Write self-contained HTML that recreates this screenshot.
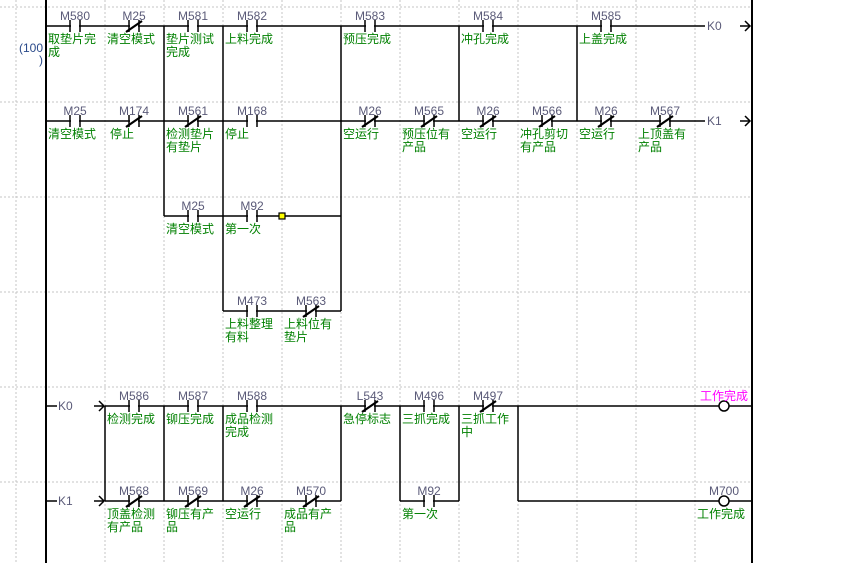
<!DOCTYPE html>
<html><head><meta charset="utf-8"><style>
html,body{margin:0;padding:0;background:#fff;}
svg{display:block;}
.l{font-family:"Liberation Sans",sans-serif;font-size:12px;fill:#5a5a78;text-anchor:middle;}
.c{font-family:"Liberation Sans","Noto Sans CJK SC",sans-serif;font-size:12px;fill:#008000;}
.k{font-family:"Liberation Sans",sans-serif;font-size:12px;fill:#5a5a78;}
.w{stroke:#000;stroke-width:1.5;fill:none;}
.g{stroke:#c4c4c4;stroke-width:1;stroke-dasharray:2,2;}
</style></head><body>
<svg width="860" height="563" viewBox="0 0 860 563" xmlns="http://www.w3.org/2000/svg">
<!-- grid -->
<g class="g">
<line x1="16" y1="0" x2="16" y2="563"/>
<line x1="105" y1="0" x2="105" y2="563"/><line x1="164" y1="0" x2="164" y2="563"/>
<line x1="223" y1="0" x2="223" y2="563"/><line x1="282" y1="0" x2="282" y2="563"/>
<line x1="341" y1="0" x2="341" y2="563"/><line x1="400" y1="0" x2="400" y2="563"/>
<line x1="459" y1="0" x2="459" y2="563"/><line x1="518" y1="0" x2="518" y2="563"/>
<line x1="577" y1="0" x2="577" y2="563"/><line x1="636" y1="0" x2="636" y2="563"/>
<line x1="695" y1="0" x2="695" y2="563"/>
<line x1="0" y1="7" x2="752" y2="7"/><line x1="0" y1="102" x2="752" y2="102"/>
<line x1="0" y1="197" x2="752" y2="197"/><line x1="0" y1="292" x2="752" y2="292"/>
<line x1="0" y1="387" x2="752" y2="387"/><line x1="0" y1="482" x2="752" y2="482"/>
</g>
<!-- rails -->
<line x1="46" y1="0" x2="46" y2="563" stroke="#000" stroke-width="2"/>
<line x1="752" y1="0" x2="752" y2="563" stroke="#000" stroke-width="2"/>
<text x="43" y="52" font-family="Liberation Sans,sans-serif" font-size="12" fill="#2a4a8a" text-anchor="end">(100</text>
<text x="43" y="64" font-family="Liberation Sans,sans-serif" font-size="12" fill="#2a4a8a" text-anchor="end">)</text>

<!-- wires -->
<g class="w">
<line x1="46" y1="26" x2="705" y2="26"/>
<line x1="46" y1="121" x2="705" y2="121"/>
<polyline points="745,21 750,26 745,31"/><line x1="740" y1="26" x2="750" y2="26"/>
<polyline points="745,116 750,121 745,126"/><line x1="740" y1="121" x2="750" y2="121"/>
<line x1="164" y1="26" x2="164" y2="216"/>
<line x1="223" y1="26" x2="223" y2="311"/>
<line x1="341" y1="26" x2="341" y2="311"/>
<line x1="459" y1="26" x2="459" y2="121"/>
<line x1="577" y1="26" x2="577" y2="121"/>
<line x1="164" y1="216" x2="341" y2="216"/>
<line x1="223" y1="311" x2="341" y2="311"/>
<line x1="46" y1="406" x2="57" y2="406"/>
<line x1="46" y1="501" x2="57" y2="501"/>
<polyline points="99,401 104,406 99,411"/><line x1="94" y1="406" x2="104" y2="406"/>
<polyline points="99,496 104,501 99,506"/><line x1="94" y1="501" x2="104" y2="501"/>
<line x1="105" y1="406" x2="719" y2="406"/><line x1="729" y1="406" x2="752" y2="406"/>
<line x1="105" y1="501" x2="341" y2="501"/>
<line x1="400" y1="501" x2="459" y2="501"/>
<line x1="518" y1="501" x2="719" y2="501"/><line x1="729" y1="501" x2="752" y2="501"/>
<line x1="105" y1="406" x2="105" y2="501"/><line x1="164" y1="406" x2="164" y2="501"/>
<line x1="223" y1="406" x2="223" y2="501"/><line x1="341" y1="406" x2="341" y2="501"/>
<line x1="400" y1="406" x2="400" y2="501"/><line x1="459" y1="406" x2="459" y2="501"/>
<line x1="518" y1="406" x2="518" y2="501"/>
<circle cx="724" cy="406" r="5"/><circle cx="724" cy="501" r="5"/>
</g>
<text class="k" x="707" y="30">K0</text>
<text class="k" x="707" y="125">K1</text>
<text class="k" x="58" y="410">K0</text>
<text class="k" x="58" y="505">K1</text>
<rect x="279" y="213" width="6" height="6" fill="#ffff00" stroke="#000" stroke-width="1.2"/>

<!-- contacts: gaps -->
<g fill="#fff">
<rect x="71" y="24" width="8" height="4"/><rect x="130" y="24" width="8" height="4"/><rect x="189" y="24" width="8" height="4"/><rect x="248" y="24" width="8" height="4"/><rect x="366" y="24" width="8" height="4"/><rect x="484" y="24" width="8" height="4"/><rect x="602" y="24" width="8" height="4"/>
<rect x="71" y="119" width="8" height="4"/><rect x="130" y="119" width="8" height="4"/><rect x="189" y="119" width="8" height="4"/><rect x="248" y="119" width="8" height="4"/><rect x="366" y="119" width="8" height="4"/><rect x="425" y="119" width="8" height="4"/><rect x="484" y="119" width="8" height="4"/><rect x="543" y="119" width="8" height="4"/><rect x="602" y="119" width="8" height="4"/><rect x="661" y="119" width="8" height="4"/>
<rect x="189" y="214" width="8" height="4"/><rect x="248" y="214" width="8" height="4"/>
<rect x="248" y="309" width="8" height="4"/><rect x="307" y="309" width="8" height="4"/>
<rect x="130" y="404" width="8" height="4"/><rect x="189" y="404" width="8" height="4"/><rect x="248" y="404" width="8" height="4"/><rect x="366" y="404" width="8" height="4"/><rect x="425" y="404" width="8" height="4"/><rect x="484" y="404" width="8" height="4"/>
<rect x="130" y="499" width="8" height="4"/><rect x="189" y="499" width="8" height="4"/><rect x="248" y="499" width="8" height="4"/><rect x="307" y="499" width="8" height="4"/><rect x="425" y="499" width="8" height="4"/>
</g>
<g stroke="#000" stroke-width="1.5">
<!-- row0 -->
<path d="M70 20v12M80 20v12M129 20v12M139 20v12M188 20v12M198 20v12M247 20v12M257 20v12M365 20v12M375 20v12M483 20v12M493 20v12M601 20v12M611 20v12"/>
<!-- row1 -->
<path d="M70 115v12M80 115v12M129 115v12M139 115v12M188 115v12M198 115v12M247 115v12M257 115v12M365 115v12M375 115v12M424 115v12M434 115v12M483 115v12M493 115v12M542 115v12M552 115v12M601 115v12M611 115v12M660 115v12M670 115v12"/>
<path d="M188 210v12M198 210v12M247 210v12M257 210v12"/>
<path d="M247 305v12M257 305v12M306 305v12M316 305v12"/>
<path d="M129 400v12M139 400v12M188 400v12M198 400v12M247 400v12M257 400v12M365 400v12M375 400v12M424 400v12M434 400v12M483 400v12M493 400v12"/>
<path d="M129 495v12M139 495v12M188 495v12M198 495v12M247 495v12M257 495v12M306 495v12M316 495v12M424 495v12M434 495v12"/>
</g>
<g stroke="#000" stroke-width="2.2">
<path d="M126 32l16-11"/>
<path d="M126 127l16-11M185 127l16-11M362 127l16-11M421 127l16-11M480 127l16-11M539 127l16-11M598 127l16-11M657 127l16-11"/>
<path d="M303 317l16-11"/>
<path d="M362 412l16-11M480 412l16-11"/>
<path d="M126 507l16-11M185 507l16-11M244 507l16-11M303 507l16-11"/>
</g>

<!-- labels -->
<g class="l">
<text x="75" y="20">M580</text><text x="134" y="20">M25</text><text x="193" y="20">M581</text><text x="252" y="20">M582</text><text x="370" y="20">M583</text><text x="488" y="20">M584</text><text x="606" y="20">M585</text>
<text x="75" y="115">M25</text><text x="134" y="115">M174</text><text x="193" y="115">M561</text><text x="252" y="115">M168</text><text x="370" y="115">M26</text><text x="429" y="115">M565</text><text x="488" y="115">M26</text><text x="547" y="115">M566</text><text x="606" y="115">M26</text><text x="665" y="115">M567</text>
<text x="193" y="210">M25</text><text x="252" y="210">M92</text>
<text x="252" y="305">M473</text><text x="311" y="305">M563</text>
<text x="134" y="400">M586</text><text x="193" y="400">M587</text><text x="252" y="400">M588</text><text x="370" y="400">L543</text><text x="429" y="400">M496</text><text x="488" y="400">M497</text>
<text x="134" y="495">M568</text><text x="193" y="495">M569</text><text x="252" y="495">M26</text><text x="311" y="495">M570</text><text x="429" y="495">M92</text><text x="724" y="495">M700</text>
</g>
<text x="724" y="400" class="c" style="fill:#ff00ff;text-anchor:middle">工作完成</text>

<!-- comments -->
<g class="c">
<text x="48" y="43">取垫片完</text><text x="48" y="56">成</text>
<text x="107" y="43">清空模式</text>
<text x="166" y="43">垫片测试</text><text x="166" y="56">完成</text>
<text x="225" y="43">上料完成</text>
<text x="343" y="43">预压完成</text>
<text x="461" y="43">冲孔完成</text>
<text x="579" y="43">上盖完成</text>

<text x="48" y="138">清空模式</text>
<text x="110" y="138">停止</text>
<text x="166" y="138">检测垫片</text><text x="166" y="151">有垫片</text>
<text x="225" y="138">停止</text>
<text x="343" y="138">空运行</text>
<text x="402" y="138">预压位有</text><text x="402" y="151">产品</text>
<text x="461" y="138">空运行</text>
<text x="520" y="138">冲孔剪切</text><text x="520" y="151">有产品</text>
<text x="579" y="138">空运行</text>
<text x="638" y="138">上顶盖有</text><text x="638" y="151">产品</text>

<text x="166" y="233">清空模式</text>
<text x="225" y="233">第一次</text>

<text x="225" y="328">上料整理</text><text x="225" y="341">有料</text>
<text x="284" y="328">上料位有</text><text x="284" y="341">垫片</text>

<text x="107" y="423">检测完成</text>
<text x="166" y="423">铆压完成</text>
<text x="225" y="423">成品检测</text><text x="225" y="436">完成</text>
<text x="343" y="423">急停标志</text>
<text x="402" y="423">三抓完成</text>
<text x="461" y="423">三抓工作</text><text x="461" y="436">中</text>

<text x="107" y="518">顶盖检测</text><text x="107" y="531">有产品</text>
<text x="166" y="518">铆压有产</text><text x="166" y="531">品</text>
<text x="225" y="518">空运行</text>
<text x="284" y="518">成品有产</text><text x="284" y="531">品</text>
<text x="402" y="518">第一次</text>
<text x="697" y="518">工作完成</text>
</g>
</svg>
</body></html>
